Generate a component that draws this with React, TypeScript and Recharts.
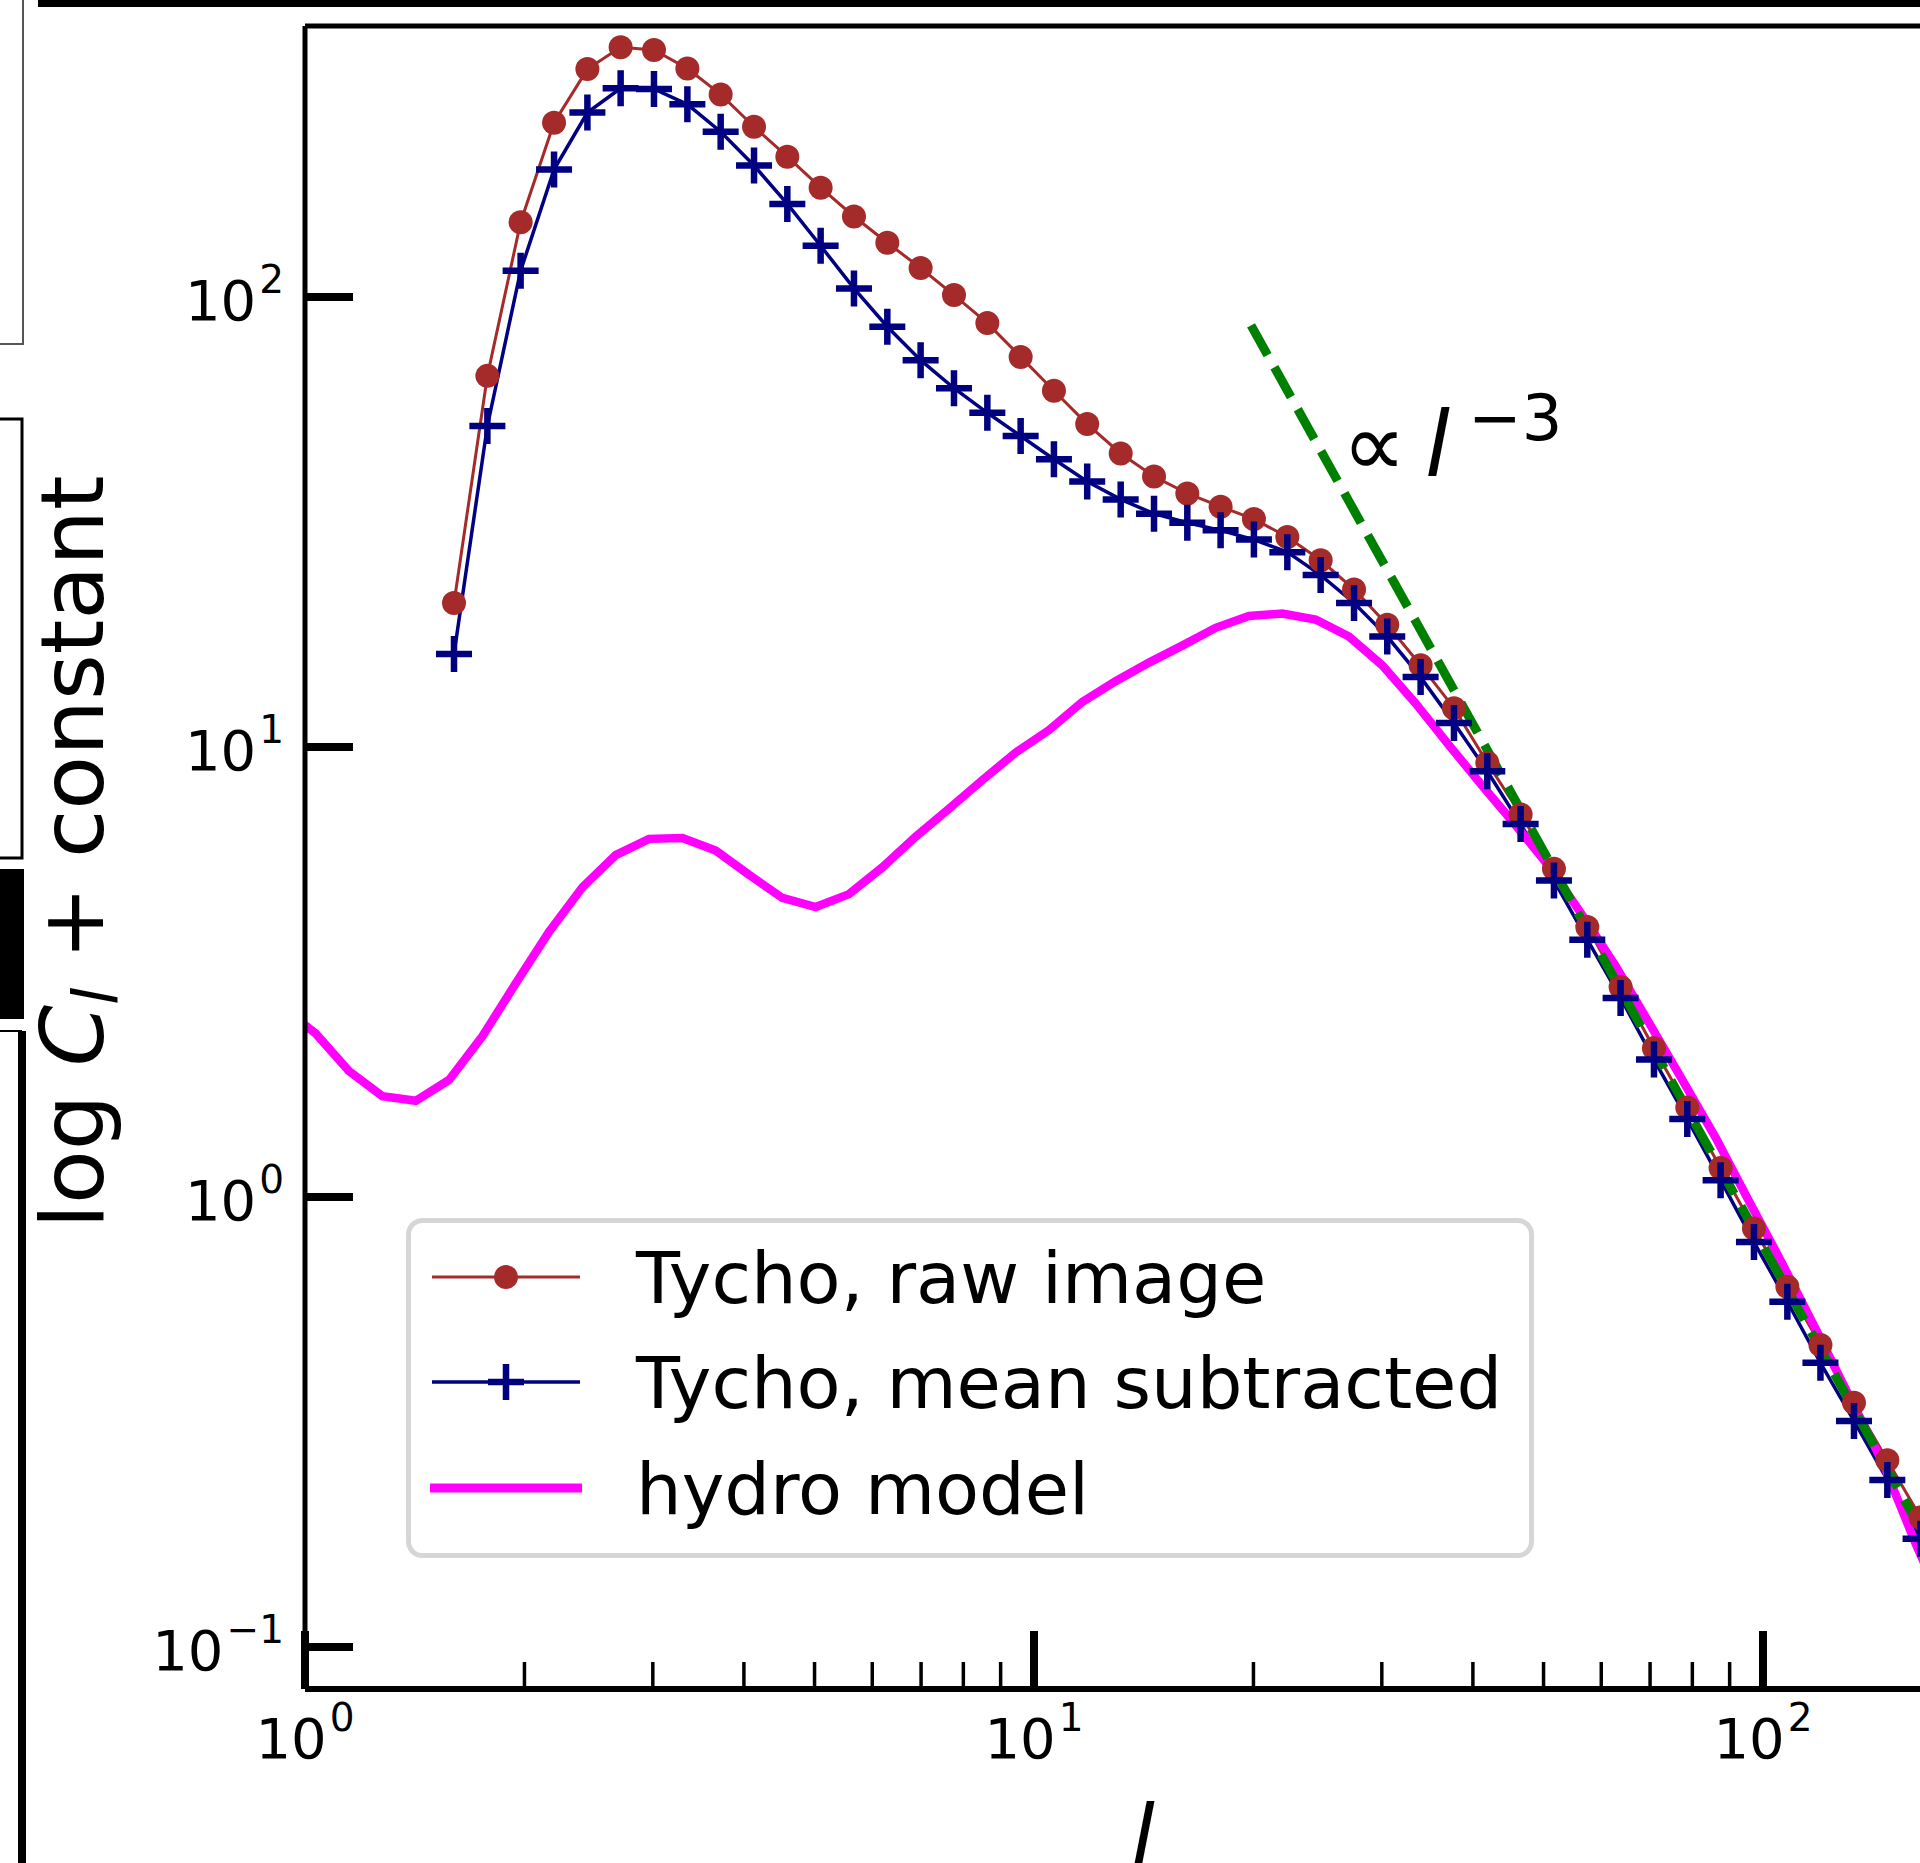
import React from 'react';
import { ComposedChart, Line, XAxis, YAxis, Legend } from 'recharts';

// multipole l of the Tycho power-spectrum bins
const ELL_TYCHO = [1.601, 1.779, 1.976, 2.196, 2.44, 2.71, 3.011, 3.346, 3.717, 4.13, 4.588, 5.097, 5.663, 6.292, 6.99, 7.767, 8.63, 9.587, 10.65, 11.83, 13.15, 14.61, 16.23, 18.03, 20.03, 22.26, 24.73, 27.48, 30.52, 33.91, 37.68, 41.86, 46.51, 51.67, 57.41, 63.78, 70.87, 78.73, 87.47, 97.19, 108.0, 119.9, 133.3, 148.1, 164.5];
// Tycho, raw image
const CL_RAW = [20.9, 66.8, 146.6, 244, 321, 359, 354, 322, 282, 239, 205, 175, 151, 132, 116, 101, 87.5, 73.6, 61.9, 52.2, 44.9, 39.9, 36.6, 34.2, 32.1, 29.3, 26.0, 22.4, 18.7, 15.2, 12.2, 9.23, 7.08, 5.36, 3.98, 2.93, 2.14, 1.58, 1.16, 0.851, 0.632, 0.469, 0.349, 0.26, 0.194];
// Tycho, mean subtracted
const CL_MEANSUB = [16.1, 51.7, 114.4, 192, 257, 291, 290, 268, 233, 196, 161, 130, 104.5, 85.9, 72.4, 62.7, 55.3, 49.1, 43.6, 38.9, 35.5, 33.0, 31.5, 30.3, 28.9, 27.1, 24.1, 20.9, 17.6, 14.3, 11.3, 8.83, 6.74, 5.05, 3.73, 2.77, 2.02, 1.49, 1.09, 0.794, 0.585, 0.428, 0.318, 0.235, 0.174];
// hydro model
const ELL_HYDRO = [0.931, 1.034, 1.149, 1.277, 1.419, 1.576, 1.751, 1.945, 2.161, 2.402, 2.668, 2.964, 3.294, 3.659, 4.065, 4.516, 5.018, 5.575, 6.193, 6.881, 7.645, 8.494, 9.437, 10.48, 11.65, 12.94, 14.38, 15.97, 17.75, 19.72, 21.91, 24.34, 27.04, 30.04, 33.38, 37.08, 41.2, 45.78, 50.86, 56.51, 62.78, 69.75, 77.5, 86.1, 95.65, 106.3, 118.1, 131.2, 145.8, 161.9, 179.9];
const CL_HYDRO = [2.64, 2.31, 1.905, 1.675, 1.636, 1.82, 2.275, 2.98, 3.88, 4.88, 5.75, 6.25, 6.28, 5.89, 5.2, 4.62, 4.41, 4.71, 5.4, 6.32, 7.29, 8.44, 9.72, 10.9, 12.6, 14.0, 15.4, 16.8, 18.4, 19.55, 19.8, 19.2, 17.6, 15.2, 12.5, 10.1, 8.2, 6.7, 5.43, 4.23, 3.26, 2.44, 1.82, 1.355, 0.98, 0.711, 0.509, 0.362, 0.258, 0.17, 0.115];
// reference power law  (proportional to l^-3)
const ELL_SLOPE = [19.85, 164.2];
const CL_SLOPE = [86.5, 0.184];

const X_TICKS = [1, 2, 3, 4, 5, 6, 7, 8, 9, 10, 20, 30, 40, 50, 60, 70, 80, 90, 100];
const Y_TICKS = [0.1, 1, 10, 100];
const X_DOMAIN = [1, 164.2];
const Y_DOMAIN = [0.08065, 400.2];

const SERIES_NAMES = ['Tycho, raw image', 'Tycho, mean subtracted', 'hydro model'];
const COLORS = { raw: '#a52a2a', mean: '#000080', hydro: '#ff00ff', slope: '#008000' };

const FONT = 'DejaVu Sans';

const rawData = ELL_TYCHO.map((l, i) => ({ l, v: CL_RAW[i] }));
const meanData = ELL_TYCHO.map((l, i) => ({ l, v: CL_MEANSUB[i] }));
const hydroData = ELL_HYDRO.map((l, i) => ({ l, v: CL_HYDRO[i] }));
const slopeData = ELL_SLOPE.map((l, i) => ({ l, v: CL_SLOPE[i] }));

const expLabel = (v: number) => {
  const e = Math.round(Math.log10(v));
  return e < 0 ? '\u2212' + Math.abs(e) : String(e);
};

const XTick = (props: any) => {
  const { x, payload } = props;
  const y = 1689;
  const v = payload.value;
  const lg = Math.log10(v);
  const major = Math.abs(lg - Math.round(lg)) < 1e-9;
  return (
    <g>
      <line x1={x} x2={x} y1={y} y2={y - (major ? 58 : 27)} stroke="#000" strokeWidth={major ? 8 : 3.5} />
      {major && (
        <text x={x} y={y + 69} textAnchor="middle" fontFamily={FONT} fontSize={56} fill="#000">
          10<tspan dx={3} dy={-27} fontSize={39}>{expLabel(v)}</tspan>
        </text>
      )}
    </g>
  );
};

const YTick = (props: any) => {
  const { y, payload } = props;
  const x = 305;
  return (
    <g>
      <line x1={x} x2={x + 48} y1={y} y2={y} stroke="#000" strokeWidth={8} />
      <text x={x - 21} y={y + 23} textAnchor="end" fontFamily={FONT} fontSize={56} fill="#000">
        10<tspan dx={3} dy={-27} fontSize={39}>{expLabel(payload.value)}</tspan>
      </text>
    </g>
  );
};

const RedDot = (props: any) => {
  const { cx, cy, index } = props;
  return <circle key={`r-${index}`} cx={cx} cy={cy} r={12} fill={COLORS.raw} />;
};

const PlusDot = (props: any) => {
  const { cx, cy, index } = props;
  return (
    <path
      key={`p-${index}`}
      d={`M${cx - 18},${cy}H${cx + 18}M${cx},${cy - 18}V${cy + 18}`}
      stroke={COLORS.mean}
      strokeWidth={6.5}
      fill="none"
    />
  );
};

const renderLegend = () => {
  const rows = [61, 166, 272];
  return (
    <svg width={1132} height={344} style={{ display: 'block' }}>
      <rect x={4.5} y={4.5} width={1123} height={335} rx={14} fill="#fff" stroke="#d6d6d6" strokeWidth={5} />
      <line x1={28} x2={176} y1={rows[0]} y2={rows[0]} stroke={COLORS.raw} strokeWidth={3} />
      <circle cx={102} cy={rows[0]} r={12} fill={COLORS.raw} />
      <line x1={28} x2={176} y1={rows[1]} y2={rows[1]} stroke={COLORS.mean} strokeWidth={3.5} />
      <path d={`M84,${rows[1]}H120M102,${rows[1] - 18}V${rows[1] + 18}`} stroke={COLORS.mean} strokeWidth={6.5} />
      <line x1={26} x2={178} y1={rows[2]} y2={rows[2]} stroke={COLORS.hydro} strokeWidth={9} />
      {SERIES_NAMES.map((n, i) => (
        <text key={n} x={232} y={rows[i] + 26} fontFamily={FONT} fontSize={72} fill="#000">
          {n}
        </text>
      ))}
    </svg>
  );
};

export default function App() {
  return (
    <div style={{ position: 'absolute', left: 0, top: 0, width: 1920, height: 1863, overflow: 'hidden', background: '#fff' }}>
      <ComposedChart width={1920} height={1863} margin={{ top: 25, right: 0, bottom: 173, left: 304 }}>
        <XAxis
          dataKey="l"
          type="number"
          scale="log"
          domain={X_DOMAIN}
          allowDataOverflow
          ticks={X_TICKS}
          interval={0}
          height={1}
          tickSize={0}
          tickMargin={0}
          tickLine={false}
          tick={XTick}
          axisLine={{ stroke: '#000', strokeWidth: 6 }}
        />
        <XAxis
          xAxisId="top"
          orientation="top"
          dataKey="l"
          type="number"
          scale="log"
          domain={X_DOMAIN}
          allowDataOverflow
          height={1}
          tick={false}
          tickLine={false}
          axisLine={{ stroke: '#000', strokeWidth: 5 }}
        />
        <YAxis
          type="number"
          scale="log"
          domain={Y_DOMAIN}
          allowDataOverflow
          ticks={Y_TICKS}
          interval={0}
          width={1}
          tickSize={0}
          tickMargin={0}
          tickLine={false}
          tick={YTick}
          axisLine={{ stroke: '#000', strokeWidth: 5 }}
        />
        <Legend
          layout="vertical"
          align="center"
          verticalAlign="middle"
          content={renderLegend}
          wrapperStyle={{ left: 404, top: 1216, width: 1132, height: 344 }}
        />
        <Line data={rawData} dataKey="v" name={SERIES_NAMES[0]} stroke={COLORS.raw} strokeWidth={3} dot={RedDot} activeDot={false} isAnimationActive={false} />
        <Line data={meanData} dataKey="v" name={SERIES_NAMES[1]} stroke={COLORS.mean} strokeWidth={3.5} dot={PlusDot} activeDot={false} isAnimationActive={false} />
        <Line data={hydroData} dataKey="v" name={SERIES_NAMES[2]} stroke={COLORS.hydro} strokeWidth={8.5} dot={false} activeDot={false} isAnimationActive={false} />
        <Line data={slopeData} dataKey="v" name="slope" stroke={COLORS.slope} strokeWidth={9} strokeDasharray="34 14" dot={false} activeDot={false} isAnimationActive={false} legendType="none" />
      </ComposedChart>
      <svg width={1920} height={1863} style={{ position: 'absolute', left: 0, top: 0, pointerEvents: 'none' }}>
        {/* edges of neighbouring panels */}
        <rect x={38} y={0} width={1882} height={7} fill="#000" />
        <path d="M23,0V344H-2" stroke="#555" strokeWidth={2} fill="none" />
        <path d="M-2,419H22V858H-2" stroke="#000" strokeWidth={3} fill="none" />
        <rect x={0} y={869} width={24} height={150} fill="#000" />
        <path d="M-2,1031H22" stroke="#000" strokeWidth={2} fill="none" />
        <rect x={18} y={1031} width={8} height={832} fill="#000" />
        {/* axis labels */}
        <text transform="translate(103,852) rotate(-90)" textAnchor="middle" fontFamily={FONT} fontSize={88} fill="#000">
          log <tspan fontStyle="italic">C</tspan>
          <tspan fontStyle="italic" fontSize={62} dy={14}>l</tspan>
          <tspan dy={-14}> + constant</tspan>
        </text>
        <text x={1143} y={1866} textAnchor="middle" fontFamily={FONT} fontStyle="italic" fontSize={86} fill="#000">l</text>
        {/* power-law annotation */}
        <text y={476} fontFamily={FONT} fontSize={90} fill="#000">
          <tspan x={1342}>{'\u221D'}</tspan>
          <tspan x={1425} fontStyle="italic">l</tspan>
          <tspan x={1468} dy={-36} fontSize={64}>{'\u22123'}</tspan>
        </text>
      </svg>
    </div>
  );
}
